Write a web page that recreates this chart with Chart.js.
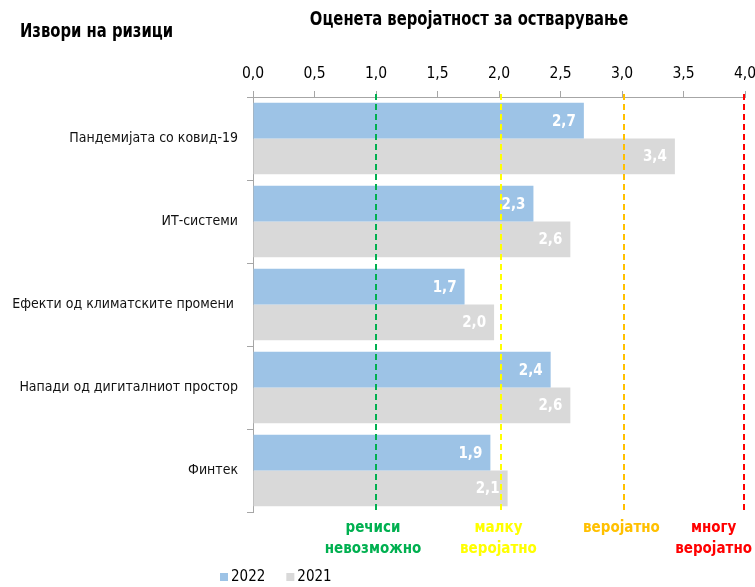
<!DOCTYPE html>
<html>
<head>
<meta charset="utf-8">
<script src="https://cdn.jsdelivr.net/npm/chart.js@4.4.0/dist/chart.umd.min.js"></script>
<style>
  html, body { margin: 0; padding: 0; background: #fff; }
  #wrap { width: 755px; height: 587px; position: relative; }
</style>
</head>
<body>
<div id="wrap"><canvas id="c"></canvas></div>
<script>
const categories = ['Пандемијата со ковид-19', 'ИТ-системи', 'Ефекти од климатските промени ', 'Напади од дигиталниот простор', 'Финтек'];
const values2022 = [2.69, 2.28, 1.72, 2.42, 1.93];
const values2021 = [3.43, 2.58, 1.96, 2.58, 2.07];
const seriesLabels = ['2022', '2021'];
const thresholdValues = [1.0, 2.02, 3.02, 3.99];
const thresholdLabels = [['речиси', 'невозможно'], ['малку', 'веројатно'], ['веројатно'], ['многу', 'веројатно']];
const thresholdColors = ['#00b050', '#ffff00', '#ffc000', '#ff0000'];

const FONT = '"Liberation Sans Narrow", "DejaVu Sans Condensed", "Liberation Sans", sans-serif';
const fmt = v => v.toFixed(1).replace('.', ',');

// squeezed text, to get closer to the narrow font of the original
function narrowText(ctx, text, x, y, sx) {
  ctx.save();
  ctx.translate(x, y);
  ctx.scale(sx, 1);
  ctx.fillText(text, 0, 0);
  ctx.restore();
}

// dashed reference lines, their captions, titles, value labels and legend
const extras = {
  id: 'extras',
  afterDatasetsDraw(chart) {
    const ctx = chart.ctx;
    const x = chart.scales.x;
    const area = chart.chartArea;
    ctx.save();

    // value labels inside bar ends
    ctx.font = 'bold 15px ' + FONT;
    ctx.fillStyle = '#fff';
    ctx.textAlign = 'right';
    ctx.textBaseline = 'middle';
    chart.data.datasets.forEach((ds, di) => {
      chart.getDatasetMeta(di).data.forEach((bar, i) => {
        ctx.fillText(fmt(ds.data[i]), bar.x - 8, bar.y + 1);
      });
    });

    // dashed lines
    ctx.lineWidth = 2;
    ctx.setLineDash([6, 4]);
    thresholdValues.forEach((v, i) => {
      const px = Math.round(x.getPixelForValue(v));
      ctx.strokeStyle = thresholdColors[i];
      ctx.beginPath();
      ctx.moveTo(px, area.top - 3);
      ctx.lineTo(px, area.bottom - 2);
      ctx.stroke();
    });
    ctx.setLineDash([]);

    // captions under the lines
    ctx.font = 'bold 15px ' + FONT;
    ctx.textAlign = 'center';
    ctx.textBaseline = 'middle';
    thresholdValues.forEach((v, i) => {
      const lines = thresholdLabels[i];
      let w = 0;
      lines.forEach(l => { w = Math.max(w, ctx.measureText(l).width); });
      let cx = x.getPixelForValue(v) - 3;
      cx = Math.min(cx, chart.width - 3 - w / 2);
      ctx.fillStyle = thresholdColors[i];
      lines.forEach((l, k) => ctx.fillText(l, cx, area.bottom + 16 + k * 21));
    });

    // titles
    ctx.fillStyle = '#000';
    ctx.font = 'bold 19px ' + FONT;
    ctx.textAlign = 'center';
    narrowText(ctx, 'Оценета веројатност за остварување', 469, 20, 0.865);
    ctx.textAlign = 'left';
    narrowText(ctx, 'Извори на ризици', 20, 32, 0.865);

    // legend
    ctx.font = '15px ' + FONT;
    ctx.textBaseline = 'middle';
    let lx = 220;
    chart.data.datasets.forEach(ds => {
      ctx.fillStyle = ds.backgroundColor;
      ctx.fillRect(lx, 573, 8, 8);
      ctx.fillStyle = '#000';
      ctx.fillText(ds.label, lx + 11, 577);
      lx += 11 + ctx.measureText(ds.label).width + 21;
    });

    ctx.restore();
  }
};

new Chart(document.getElementById('c'), {
  type: 'bar',
  data: {
    labels: categories,
    datasets: [
      { label: seriesLabels[0], data: values2022, backgroundColor: '#9dc3e6' },
      { label: seriesLabels[1], data: values2021, backgroundColor: '#d9d9d9' }
    ]
  },
  options: {
    indexAxis: 'y',
    responsive: true,
    maintainAspectRatio: false,
    animation: false,
    datasets: { bar: { barPercentage: 1.0, categoryPercentage: 0.86 } },
    layout: { padding: { top: 0, right: 10, bottom: 75, left: 0 } },
    plugins: { legend: { display: false }, tooltip: { enabled: false } },
    scales: {
      x: {
        position: 'top',
        min: 0,
        max: 4,
        ticks: {
          stepSize: 0.5,
          callback: v => fmt(v),
          font: { family: FONT, size: 15.5 },
          color: '#000',
          padding: 8
        },
        grid: { drawOnChartArea: false, tickLength: 6, color: '#a6a6a6' },
        border: { color: '#a6a6a6' },
        afterFit: s => { s.height = 97; s.paddingLeft = 0; s.paddingRight = 0; }
      },
      y: {
        ticks: {
          font: { family: FONT, size: 14 },
          color: '#111',
          padding: 9
        },
        grid: { drawOnChartArea: false, tickLength: 6, color: '#a6a6a6', offset: true },
        border: { color: '#a6a6a6' },
        afterFit: s => { s.width = 253; s.paddingTop = 0; s.paddingBottom = 0; }
      }
    }
  },
  plugins: [extras]
});
</script>
</body>
</html>
